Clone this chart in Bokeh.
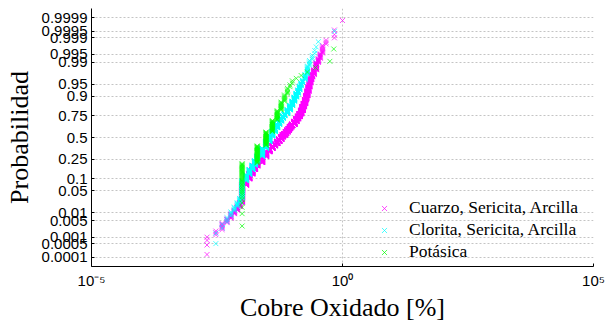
from statistics import NormalDist

import numpy as np
from bokeh.embed import file_html
from bokeh.models import FixedTicker, Range1d
from bokeh.plotting import figure
from bokeh.resources import INLINE

# Oxidised copper grades (%) and number of samples at each grade, per alteration zone
cuarzo_values = [0.002, 0.003, 0.004, 0.005, 0.006, 0.007, 0.008, 0.009, 0.010,
                 0.012, 0.014, 0.016, 0.018, 0.020, 0.025, 0.030, 0.035, 0.040,
                 0.045, 0.050, 0.055, 0.060, 0.065, 0.070, 0.075, 0.080, 0.085,
                 0.090, 0.095, 0.100, 0.11, 0.12, 0.13, 0.14, 0.15, 0.16, 0.17,
                 0.18, 0.19, 0.20, 0.21, 0.22, 0.23, 0.24, 0.25, 0.27, 0.30,
                 0.33, 0.36, 0.40, 0.47, 0.69, 1.00]
cuarzo_counts = [4, 3, 7, 7, 10, 11, 14, 21, 168,
                 105, 105, 105, 105, 105, 210, 175, 140, 105,
                 88, 87, 105, 105, 70, 70, 70, 70, 70,
                 70, 53, 52, 105, 105, 87, 88, 105, 105, 87,
                 88, 80, 77, 60, 45, 32, 21, 17, 25, 28,
                 10, 9, 9, 3, 3, 1]

clorita_values = [0.003, 0.004, 0.005, 0.006, 0.007, 0.008, 0.009, 0.010,
                  0.012, 0.014, 0.016, 0.018, 0.020, 0.025, 0.030, 0.035,
                  0.040, 0.045, 0.050, 0.055, 0.060, 0.065, 0.070, 0.080,
                  0.090, 0.100, 0.110, 0.120, 0.130, 0.140, 0.150, 0.160,
                  0.180, 0.200, 0.220, 0.250, 0.280, 0.300, 0.330, 0.690]
clorita_counts = [2, 2, 3, 4, 5, 6, 8, 60,
                  35, 35, 35, 40, 45, 90, 80, 70,
                  55, 45, 40, 35, 30, 25, 20, 35,
                  35, 30, 25, 20, 15, 15, 10, 8,
                  12, 12, 5, 3, 2, 1, 1, 1]

potasica_values = [0.01, 0.02, 0.03, 0.04, 0.05, 0.06, 0.07, 0.08,
                   0.09, 0.10, 0.12, 0.15, 0.20, 0.29, 0.56, 0.67]
potasica_counts = [35, 31, 28, 22, 16, 11, 7, 5,
                   2, 2, 1, 1, 1, 1, 1, 1]

series_names = ["Cuarzo, Sericita, Arcilla", "Clorita, Sericita, Arcilla", "Potásica"]
series_colors = ["#ff00ff", "#00ffff", "#00ff00"]

prob_ticks = [0.0001, 0.0005, 0.001, 0.005, 0.01, 0.05, 0.1, 0.25, 0.5,
              0.75, 0.9, 0.95, 0.99, 0.995, 0.999, 0.9995, 0.9999]
prob_tick_labels = ["0.0001", "0.0005", "0.001", "0.005", "0.01", "0.05", "0.1",
                    "0.25", "0.5", "0.75", "0.9", "0.95", "0.99", "0.995",
                    "0.999", "0.9995", "0.9999"]
x_ticks = [1e-5, 1e0, 1e5]
x_tick_labels = ["10⁻⁵", "10⁰", "10⁵"]

normal = NormalDist()


def plotting_positions(values, counts):
    """Sorted sample and its normal quantiles at (i - 0.5) / n."""
    x = np.repeat(np.asarray(values, dtype=float), counts)
    n = len(x)
    probs = (np.arange(1, n + 1) - 0.5) / n
    z = np.array([normal.inv_cdf(float(q)) for q in probs])
    return x, z


p = figure(width=605, height=324, x_axis_type="log",
           x_range=Range1d(1e-5, 1e5), y_range=Range1d(-4.0, 4.0),
           output_backend="svg", toolbar_location=None,
           min_border_left=91, min_border_right=12,
           min_border_top=8, min_border_bottom=57)
p.outline_line_color = None
p.background_fill_color = "white"
p.border_fill_color = "white"

datasets = [(cuarzo_values, cuarzo_counts), (clorita_values, clorita_counts),
            (potasica_values, potasica_counts)]
for (vals, cnts), color, name in zip(datasets, series_colors, series_names):
    x, z = plotting_positions(vals, cnts)
    p.scatter(x, z, marker="x", size=7, color=color, line_width=1,
              line_alpha=0.7, legend_label=name)

# normal-probability axis: ticks placed at the standard normal quantiles
z_ticks = [normal.inv_cdf(q) for q in prob_ticks]
y_ticker = FixedTicker(ticks=z_ticks)
p.yaxis.ticker = y_ticker
p.ygrid.ticker = y_ticker
p.yaxis.major_label_overrides = dict(zip(z_ticks, prob_tick_labels))

x_ticker = FixedTicker(ticks=x_ticks)
p.xaxis.ticker = x_ticker
p.xgrid.ticker = x_ticker
p.xaxis.major_label_overrides = dict(zip(x_ticks, x_tick_labels))

p.xaxis.axis_label = "Cobre Oxidado [%]"
p.yaxis.axis_label = "Probabilidad"

for ax in (p.xaxis[0], p.yaxis[0]):
    ax.axis_line_color = "black"
    ax.axis_line_width = 1
    ax.major_tick_line_color = "black"
    ax.major_tick_in = 3
    ax.major_tick_out = 0
    ax.minor_tick_line_color = None
    ax.major_label_text_font = "Liberation Sans"
    ax.major_label_text_font_size = "15px"
    ax.major_label_text_color = "black"
    ax.axis_label_text_font = "Liberation Serif"
    ax.axis_label_text_font_style = "normal"
    ax.axis_label_text_font_size = "26px"
    ax.axis_label_text_color = "black"

p.yaxis.major_label_standoff = 4
p.yaxis.axis_label_standoff = 5
p.xaxis.major_label_standoff = 5
p.xaxis.axis_label_standoff = 1

for g in (p.xgrid[0], p.ygrid[0]):
    g.grid_line_color = "#c4c4c4"
    g.grid_line_dash = "2 2"
    g.grid_line_width = 1

legend = p.legend[0]
legend.location = (283, 4)
legend.orientation = "vertical"
legend.label_text_font = "Liberation Serif"
legend.label_text_font_size = "17.5px"
legend.label_text_color = "black"
legend.glyph_width = 20
legend.glyph_height = 18
legend.label_height = 18
legend.spacing = 1
legend.padding = 0
legend.margin = 0
legend.label_standoff = 15
legend.border_line_color = None
legend.background_fill_alpha = 0

open("out.html", "w").write(file_html(p, INLINE))
